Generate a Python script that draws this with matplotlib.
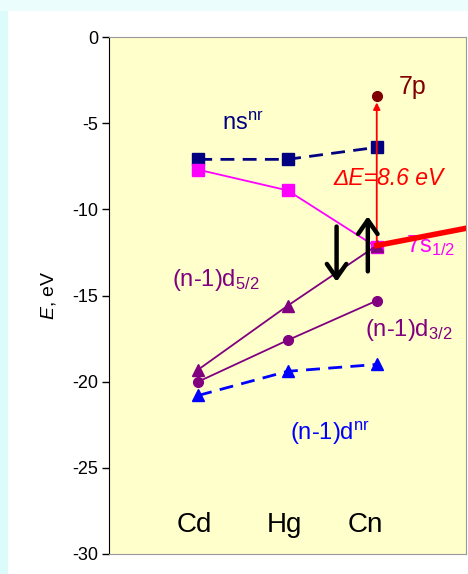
import matplotlib
matplotlib.use("Agg")
import matplotlib.pyplot as plt
from matplotlib.patches import Rectangle

plt.rcParams['font.family'] = ['Liberation Sans', 'DejaVu Sans']
plt.rcParams['mathtext.fontset'] = 'custom'
plt.rcParams['mathtext.rm'] = 'Liberation Sans'
plt.rcParams['mathtext.it'] = 'Liberation Sans:italic'

# data
elements = ['Cd', 'Hg', 'Cn']
xpos = [1, 2, 3]
label_x = [0.96, 1.97, 2.87]
ns_nr = [-7.1, -7.1, -6.4]
ns_rel = [-7.7, -8.9, -12.2]
d52 = [-19.3, -15.6, -12.1]
d32 = [-20.0, -17.6, -15.3]
d_nr = [-20.8, -19.4, -19.0]
p7 = -3.4
s7_line = [-12.1, -11.1]
yticks = [0, -5, -10, -15, -20, -25, -30]

fig = plt.figure(figsize=(4.68, 5.74), dpi=100)
fig.patch.set_facecolor('white')
# cyan frame strips
fig.patches.append(Rectangle((0, 0), 8 / 468, 1, transform=fig.transFigure,
                             facecolor='#dcfcfc', edgecolor='none', zorder=-1))
fig.patches.append(Rectangle((0, 1 - 11 / 574), 1, 11 / 574, transform=fig.transFigure,
                             facecolor='#ecfdfd', edgecolor='none', zorder=-1))

ax = fig.add_axes([109 / 468, 20 / 574, 357 / 468, 517 / 574])
ax.set_facecolor('#ffffcc')
ax.set_xlim(0, 4)
ax.set_ylim(-30, 0)
ax.set_xticks([])
ax.set_yticks(yticks)
ax.set_yticklabels([str(t) for t in yticks], fontsize=13)
ax.tick_params(axis='y', length=5, width=1, pad=3)
for s in ['top', 'right', 'bottom']:
    ax.spines[s].set_color('#999999')
ax.spines['left'].set_color('black')
ax.set_ylabel('$\\mathit{E}$, eV', fontsize=14, labelpad=10)

dash = (0, (5, 3))
ax.plot(xpos, ns_nr, color='#000080', ls=dash, lw=2, marker='s', ms=8, zorder=3)
ax.plot(xpos, ns_rel, color='#ff00ff', lw=1.3, marker='s', ms=8, zorder=3)
ax.plot(xpos, d52, color='#800080', lw=1.3, marker='^', ms=8, zorder=3)
ax.plot(xpos, d32, color='#800080', lw=1.3, marker='o', ms=7, zorder=3)
ax.plot(xpos, d_nr, color='#0000ff', ls=dash, lw=2, marker='^', ms=8, zorder=3)
ax.plot([3], [p7], color='#800000', marker='o', ms=7, zorder=4)
ax.plot([3, 4], s7_line, color='#ff0000', lw=4, zorder=4, clip_on=True)

# excitation arrow 7s -> 7p
ax.annotate('', xy=(3, p7 - 0.4), xytext=(3, ns_rel[2]),
            arrowprops=dict(arrowstyle='-|>', color='#ff0000', lw=1.3,
                            mutation_scale=10, shrinkA=0, shrinkB=0), zorder=5)
# spin arrows
ax.annotate('', xy=(2.55, -14.2), xytext=(2.55, -11.0),
            arrowprops=dict(arrowstyle='->,head_length=0.5,head_width=0.35', color='black',
                            lw=3.2, mutation_scale=20, shrinkA=0, shrinkB=0), zorder=6)
ax.annotate('', xy=(2.9, -10.4), xytext=(2.9, -13.6),
            arrowprops=dict(arrowstyle='->,head_length=0.5,head_width=0.35', color='black',
                            lw=3.2, mutation_scale=20, shrinkA=0, shrinkB=0), zorder=6)

ax.text(1.27, -5.0, 'ns$^{\\mathrm{nr}}$', color='#000080', fontsize=17, va='center')
ax.text(3.25, -2.9, '7p', color='#800000', fontsize=18, va='center')
ax.text(3.13, -8.2, 'ΔE=8.6 eV', color='#ff0000', fontsize=16.5, style='italic',
        ha='center', va='center', zorder=2)
ax.text(3.33, -12.1, '7s$_{1/2}$', color='#ff00ff', fontsize=17, va='center', zorder=2)
ax.text(0.71, -14.1, '(n-1)d$_{5/2}$', color='#800080', fontsize=17, va='center')
ax.text(2.87, -17.0, '(n-1)d$_{3/2}$', color='#800080', fontsize=17, va='center')
ax.text(2.03, -23.0, '(n-1)d$^{\\mathrm{nr}}$', color='#0000ff', fontsize=17, va='center')
for x, name in zip(label_x, elements):
    ax.text(x, -28.3, name, color='black', fontsize=20, ha='center', va='center')

fig.savefig('out.png', dpi=100, facecolor=fig.get_facecolor())
